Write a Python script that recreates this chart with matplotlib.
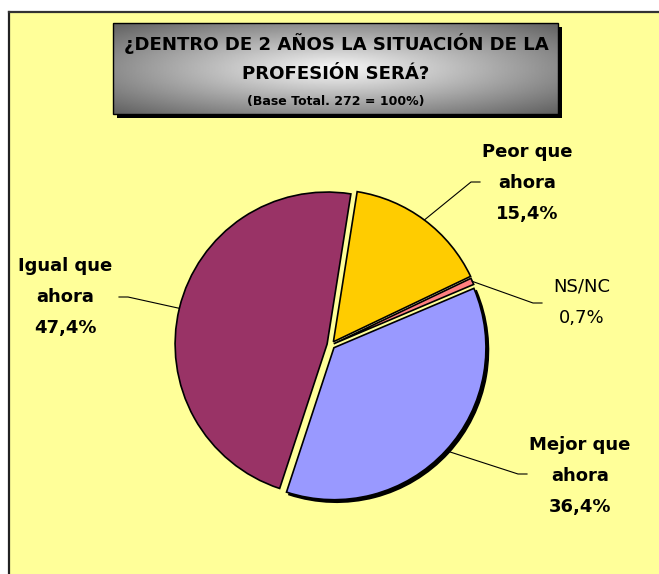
import numpy as np
import matplotlib.pyplot as plt
from matplotlib.patches import Rectangle, Wedge

W, H = 659, 574

# datos
labels = ["Peor que\nahora", "NS/NC", "Mejor que\nahora", "Igual que\nahora"]
values = [15.4, 0.7, 36.4, 47.4]
colors = ["#FFCC00", "#FF8080", "#9999FF", "#993366"]
bold = [True, False, True, True]

title1 = "¿DENTRO DE 2 AÑOS LA SITUACIÓN DE LA"
title2 = "PROFESIÓN SERÁ?"
subtitle = "(Base Total. 272 = 100%)"

# posiciones de etiquetas (pixeles, desde arriba)
label_pos = [(527, 183), (582, 302), (580, 476), (65, 297)]
elbow_pos = [(471, 182), (533, 303), (518, 474), (128, 297)]
end_pos = [(480, 182), (542, 303), (527, 474), (119, 297)]

fig = plt.figure(figsize=(W / 100, H / 100), dpi=100)
fig.patch.set_facecolor("white")
ax = fig.add_axes([0, 0, 1, 1])


def py(y):
    return H - y


# fondo amarillo con borde
ax.add_patch(Rectangle((8.5, -10), W + 20, py(11.5) + 10, facecolor="#FFFF99", edgecolor="none", zorder=0))
ax.plot([8.5, 8.5], [-10, py(11.5)], color="#222222", lw=1.6, zorder=1)
ax.plot([8.5, W + 10], [py(11.5), py(11.5)], color="#333333", lw=1.6, zorder=1)

# caja del titulo con degradado
bx0, bx1, by0, by1 = 113, 558, 23, 114
ax.add_patch(Rectangle((bx0 + 4, py(by1 + 4)), bx1 - bx0, by1 - by0, facecolor="black", zorder=2))
gx, gy = np.meshgrid(np.linspace(-1, 1, 300), np.linspace(-1, 1, 100))
d = np.sqrt(gx ** 2 + gy ** 2)
grad = np.clip(0.97 - 0.42 * d, 0, 1)
ax.imshow(grad, cmap="gray", vmin=0, vmax=1, extent=[bx0, bx1, py(by1), py(by0)],
          aspect="auto", zorder=3, interpolation="bilinear")
ax.add_patch(Rectangle((bx0, py(by1)), bx1 - bx0, by1 - by0, facecolor="none",
                       edgecolor="black", lw=1.0, zorder=4))
ax.text(336, py(44), title1, ha="center", va="center", fontsize=13.1, fontweight="bold", zorder=5)
ax.text(336, py(74), title2, ha="center", va="center", fontsize=13.1, fontweight="bold", zorder=5)
ax.text(336, py(102), subtitle, ha="center", va="center", fontsize=9, fontweight="bold", zorder=5)

# tarta
cx, cy, R = 331, py(345), 152
wedges, _ = ax.pie(values, colors=colors, startangle=81, counterclock=False,
                   center=(cx, cy), radius=R, explode=[4, 3, 4, 4],
                   wedgeprops=dict(edgecolor="black", linewidth=1.2, zorder=6))

# sombra del sector "Mejor"
wm = wedges[2]
ax.add_patch(Wedge((wm.center[0] + 2.5, wm.center[1] - 2.5), wm.r, wm.theta1, wm.theta2,
                   facecolor="black", edgecolor="black", lw=1.2, zorder=5))

for i, w in enumerate(wedges):
    th = np.deg2rad((w.theta1 + w.theta2) / 2)
    ex = w.center[0] + w.r * np.cos(th)
    ey = w.center[1] + w.r * np.sin(th)
    ax.plot([ex, elbow_pos[i][0], end_pos[i][0]],
            [ey, py(elbow_pos[i][1]), py(end_pos[i][1])],
            color="black", lw=0.8, zorder=7)
    txt = labels[i] + "\n" + f"{values[i]:.1f}".replace(".", ",") + "%"
    ax.text(label_pos[i][0], py(label_pos[i][1]), txt, ha="center", va="center",
            fontsize=13, fontweight="bold" if bold[i] else "normal",
            linespacing=1.95, zorder=8)

ax.set_xlim(0, W)
ax.set_ylim(0, H)
ax.set_aspect("auto")
ax.axis("off")

fig.savefig("out.png", dpi=100, facecolor=fig.get_facecolor())
